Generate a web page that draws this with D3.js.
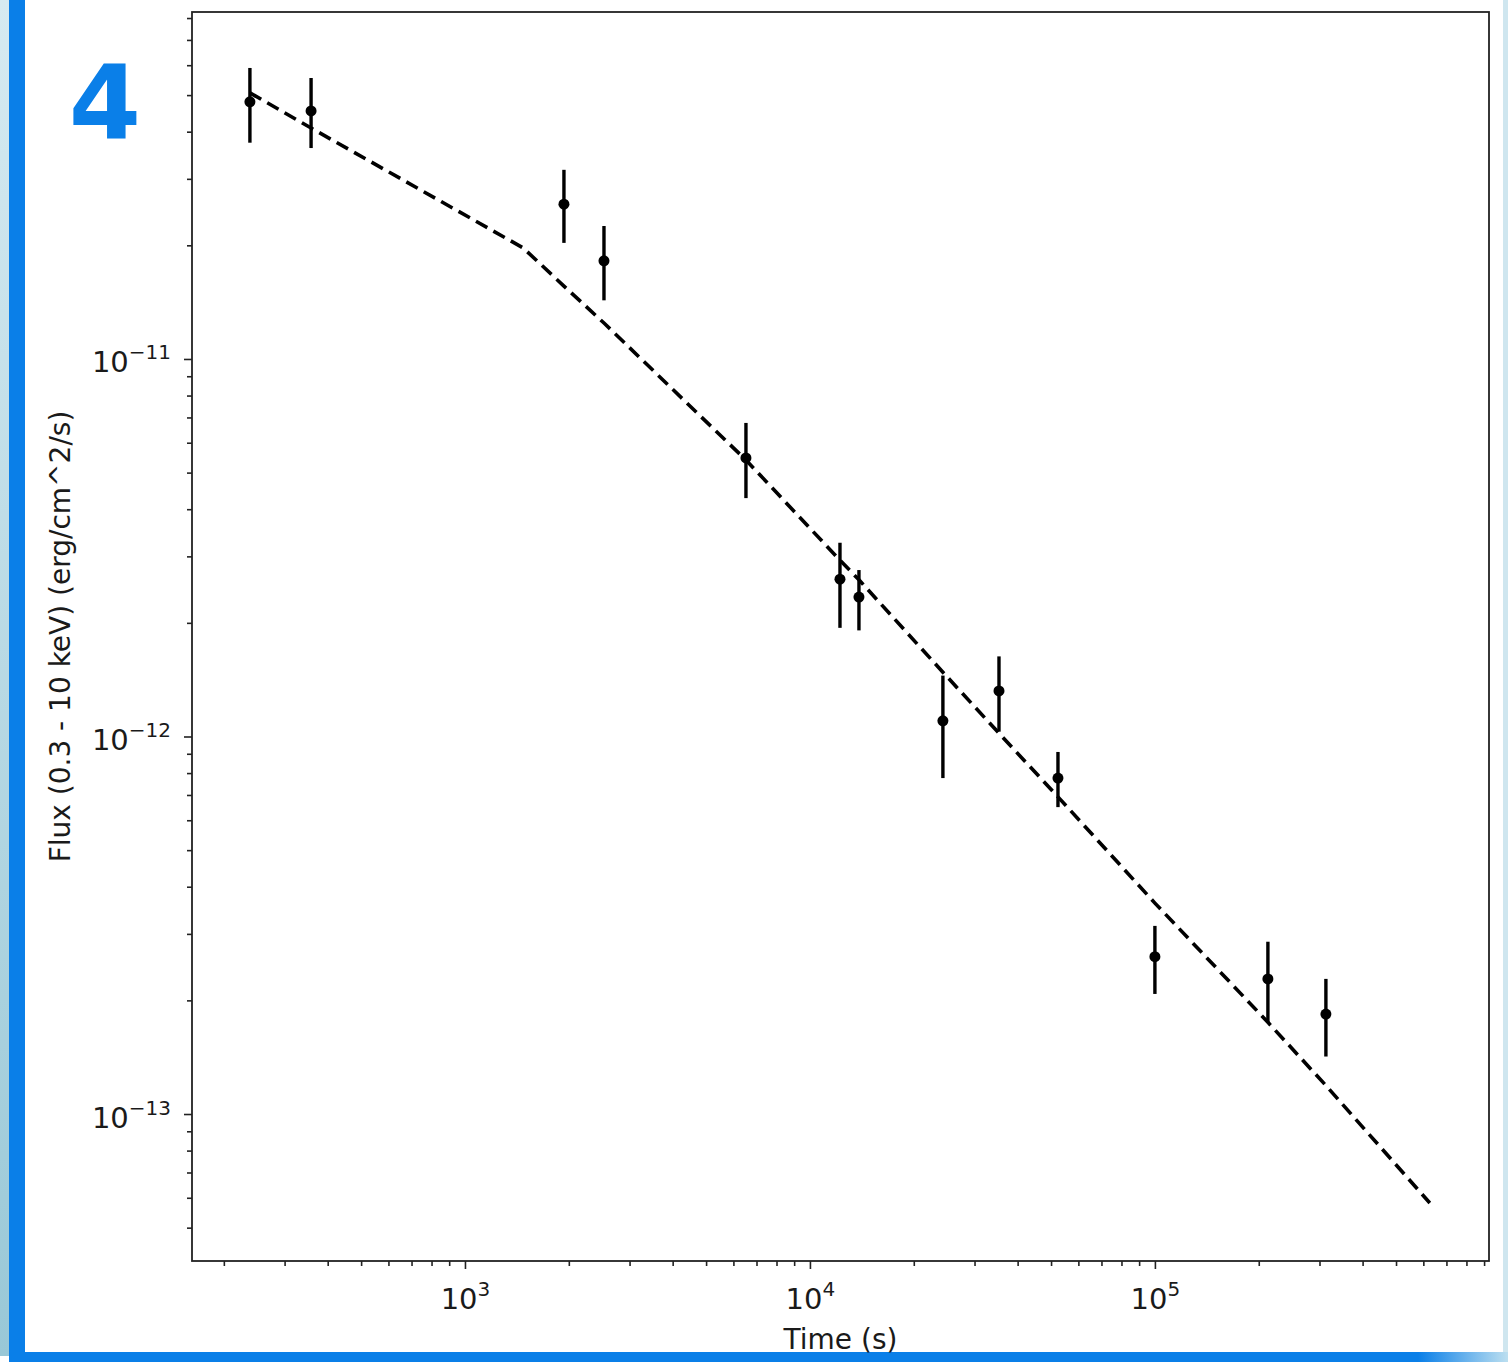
<!DOCTYPE html>
<html>
<head>
<meta charset="utf-8">
<script src="https://cdn.jsdelivr.net/npm/d3@7"></script>
<style>
  html, body { margin: 0; padding: 0; background: #fff; }
  svg { display: block; }
  text { font-family: 'DejaVu Sans', sans-serif; fill: #1a1a1a; }
</style>
</head>
<body>
<script>
// Observed light curve (time in s, flux in erg/cm^2/s)
const TIMES = [238, 358, 1936, 2529, 6524, 12220, 13870, 24290, 35320, 52360, 100000, 212600, 313100]
const FLUX = [4.80e-11, 4.54e-11, 2.57e-11, 1.82e-11, 5.47e-12, 2.61e-12, 2.34e-12, 1.10e-12, 1.32e-12, 7.76e-13, 2.61e-13, 2.28e-13, 1.84e-13]
const FLUX_HI = [5.90e-11, 5.55e-11, 3.17e-11, 2.25e-11, 6.77e-12, 3.26e-12, 2.76e-12, 1.45e-12, 1.63e-12, 9.10e-13, 3.15e-13, 2.86e-13, 2.28e-13]
const FLUX_LO = [3.74e-11, 3.62e-11, 2.03e-11, 1.43e-11, 4.28e-12, 1.94e-12, 1.91e-12, 7.76e-13, 1.03e-12, 6.50e-13, 2.08e-13, 1.75e-13, 1.42e-13]

// Model (dashed) curve
const MODEL_T = [238, 358, 1473, 1936, 2529, 6524, 12220, 13870, 24290, 35320, 52360, 100000, 212600, 313100, 626600]
const MODEL_F = [5.07e-11, 4.09e-11, 1.97e-11, 1.56e-11, 1.245e-11, 5.40e-12, 2.93e-12, 2.60e-12, 1.48e-12, 1.02e-12, 6.92e-13, 3.62e-13, 1.75e-13, 1.19e-13, 5.81e-14]

const X_MAJOR = [1e3, 1e4, 1e5]
const Y_MAJOR = [1e-11, 1e-12, 1e-13]
const X_DOMAIN = [161.7, 9.3e5]
const Y_DOMAIN = [4.08e-14, 8.3e-11]

const width = 1508
const height = 1362
const plot = { left: 192, right: 1489, top: 12, bottom: 1261 }

const svg = d3.select('body').append('svg')
  .attr('width', width)
  .attr('height', height)

// Frame decoration
const defs = svg.append('defs')
const side = defs.append('linearGradient').attr('id', 'side')
  .attr('x1', 0).attr('y1', 0).attr('x2', 0).attr('y2', 1)
side.append('stop').attr('offset', '0%').attr('stop-color', '#d6eaf1')
side.append('stop').attr('offset', '100%').attr('stop-color', '#99c8d7')
const base = defs.append('linearGradient').attr('id', 'base')
  .attr('x1', 0).attr('y1', 0).attr('x2', 1).attr('y2', 0)
base.append('stop').attr('offset', '0%').attr('stop-color', '#0a7fe8')
base.append('stop').attr('offset', '94%').attr('stop-color', '#0a7fe8')
base.append('stop').attr('offset', '100%').attr('stop-color', '#bcdff0')

svg.append('rect').attr('width', width).attr('height', height).attr('fill', '#fff')
svg.append('rect').attr('x', 0).attr('y', 0).attr('width', 9).attr('height', 1356).attr('fill', 'url(#side)')
svg.append('rect').attr('x', 1503).attr('y', 0).attr('width', 5).attr('height', 1356).attr('fill', '#cfe6ef')
svg.append('rect').attr('x', 9).attr('y', 0).attr('width', 16).attr('height', height).attr('fill', '#0a7fe8')
svg.append('rect').attr('x', 9).attr('y', 1352).attr('width', width - 9).attr('height', 10).attr('fill', 'url(#base)')

svg.append('text')
  .attr('x', 105)
  .attr('y', 139)
  .attr('text-anchor', 'middle')
  .style('font-family', "'DejaVu Sans', sans-serif")
  .style('font-weight', 'bold')
  .style('font-size', '104px')
  .style('fill', '#0a7fe8')
  .text('4')

// Scales
const x = d3.scaleLog().domain(X_DOMAIN).range([plot.left, plot.right])
const y = d3.scaleLog().domain(Y_DOMAIN).range([plot.bottom, plot.top])

function minorTicks(domain) {
  const out = []
  const lo = Math.floor(Math.log10(domain[0]))
  const hi = Math.ceil(Math.log10(domain[1]))
  for (let e = lo; e <= hi; e++) {
    for (let m = 2; m <= 9; m++) {
      const v = m * Math.pow(10, e)
      if (v >= domain[0] && v <= domain[1]) out.push(v)
    }
  }
  return out
}

// Minor ticks
svg.append('g')
  .attr('transform', `translate(0,${plot.bottom})`)
  .call(d3.axisBottom(x).tickValues(minorTicks(X_DOMAIN)).tickSize(5).tickFormat(''))
  .call(g => g.select('.domain').remove())
svg.append('g')
  .attr('transform', `translate(${plot.left},0)`)
  .call(d3.axisLeft(y).tickValues(minorTicks(Y_DOMAIN)).tickSize(5).tickFormat(''))
  .call(g => g.select('.domain').remove())

// Major ticks
const xAxis = svg.append('g')
  .attr('transform', `translate(0,${plot.bottom})`)
  .call(d3.axisBottom(x).tickValues(X_MAJOR).tickSize(8).tickFormat(''))
  .call(g => g.select('.domain').remove())
const yAxis = svg.append('g')
  .attr('transform', `translate(${plot.left},0)`)
  .call(d3.axisLeft(y).tickValues(Y_MAJOR).tickSize(8).tickFormat(''))
  .call(g => g.select('.domain').remove())

svg.selectAll('.tick line').attr('stroke', '#222').attr('stroke-width', 1.6)

// Tick labels with superscript exponents
function powLabel(sel, v) {
  const e = Math.round(Math.log10(v))
  sel.append('tspan').style('font-size', '29px').text('10')
  sel.append('tspan').style('font-size', '20px').attr('dy', -13)
    .text(e < 0 ? '\u2212' + (-e) : String(e))
}

xAxis.selectAll('.tick').each(function (d) {
  const t = d3.select(this).append('text')
    .attr('y', 48)
    .attr('text-anchor', 'middle')
  powLabel(t, d)
})
yAxis.selectAll('.tick').each(function (d) {
  const t = d3.select(this).append('text')
    .attr('x', -21)
    .attr('y', 13)
    .attr('text-anchor', 'end')
  powLabel(t, d)
})

// Plot frame
svg.append('rect')
  .attr('x', plot.left)
  .attr('y', plot.top)
  .attr('width', plot.right - plot.left)
  .attr('height', plot.bottom - plot.top)
  .attr('fill', 'none')
  .attr('stroke', '#222')
  .attr('stroke-width', 1.8)

// Model curve
const model = MODEL_T.map((t, i) => [t, MODEL_F[i]])
svg.append('path')
  .datum(model)
  .attr('d', d3.line().x(d => x(d[0])).y(d => y(d[1])))
  .attr('fill', 'none')
  .attr('stroke', '#000')
  .attr('stroke-width', 3.6)
  .attr('stroke-dasharray', '13,7')

// Error bars and points
const points = TIMES.map((t, i) => ({ t, f: FLUX[i], lo: FLUX_LO[i], hi: FLUX_HI[i] }))
svg.append('g').selectAll('line')
  .data(points)
  .enter()
  .append('line')
  .attr('x1', d => x(d.t))
  .attr('x2', d => x(d.t))
  .attr('y1', d => y(d.lo))
  .attr('y2', d => y(d.hi))
  .attr('stroke', '#000')
  .attr('stroke-width', 3.4)
svg.append('g').selectAll('circle')
  .data(points)
  .enter()
  .append('circle')
  .attr('cx', d => x(d.t))
  .attr('cy', d => y(d.f))
  .attr('r', 5.5)
  .attr('fill', '#000')

// Axis titles
svg.append('text')
  .attr('x', (plot.left + plot.right) / 2)
  .attr('y', 1349)
  .attr('text-anchor', 'middle')
  .style('font-size', '28px')
  .text('Time (s)')

svg.append('text')
  .attr('transform', `translate(70,${(plot.top + plot.bottom) / 2}) rotate(-90)`)
  .attr('text-anchor', 'middle')
  .style('font-size', '28px')
  .text('Flux (0.3 - 10 keV) (erg/cm^2/s)')
</script>
</body>
</html>
